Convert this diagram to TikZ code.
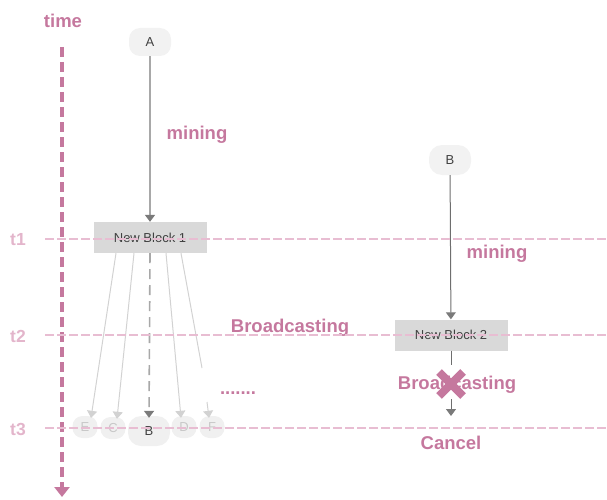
\documentclass[tikz,border=0pt]{standalone}
\usepackage{fontspec}
\setmainfont{Liberation Sans}
\usetikzlibrary{arrows.meta}
\definecolor{rose}{HTML}{C5789E}
\definecolor{roselight}{HTML}{E8BDD2}
\definecolor{ticktext}{HTML}{E3B5CB}
\definecolor{peerfill}{HTML}{F2F2F2}
\definecolor{ghostfill}{HTML}{F0F0F0}
\definecolor{blockfill}{HTML}{D9D9D9}
\definecolor{linegray}{HTML}{A8A8A8}
\definecolor{tipgray}{HTML}{7A7A7A}
\definecolor{darkline}{HTML}{6E6E6E}
\definecolor{faint}{HTML}{D2D2D2}
\definecolor{ghosttext}{HTML}{C8C8C8}
\definecolor{inkgray}{HTML}{404040}

\tikzset{
  peer/.style={fill=peerfill, rounded corners=11pt, minimum width=42pt, minimum height=28pt,
    inner sep=0pt, text=inkgray, font=\fontsize{13}{13}\selectfont},
  ghost/.style={peer, fill=ghostfill, rounded corners=10pt, minimum width=25pt,
    minimum height=22pt, text=ghosttext},
  block/.style={fill=blockfill, minimum width=113pt, minimum height=31pt, inner sep=0pt,
    text=inkgray, font=\fontsize{13}{13}\selectfont},
  tag/.style={text=rose, font=\bfseries\fontsize{18.5}{18.5}\selectfont, inner sep=0pt,
    yshift=-2pt},
  tick/.style={text=ticktext, font=\bfseries\fontsize{17.5}{17.5}\selectfont, inner sep=0pt,
    yshift=-1pt},
  flow/.style={draw=linegray, line width=1.6pt,
    -{Triangle[width=10pt,length=7pt,color=tipgray]}},
  thinflow/.style={draw=darkline, line width=1pt,
    -{Triangle[width=10pt,length=7pt,color=tipgray]}},
  fan/.style={draw=faint, line width=1pt, -{Triangle[width=10pt,length=7pt]}},
  timeline/.style={draw=roselight, line width=2.6pt, dash pattern=on 8.5pt off 3.5pt},
  axis/.style={draw=rose, line width=4pt, dash pattern=on 10pt off 5pt,
    -{Triangle[width=15pt,length=10pt]}},
}

\begin{document}
\begin{tikzpicture}[x=1pt,y=-1pt]
\useasboundingbox (0,0) rectangle (607,500);

% time axis
\node[tag] (time) at (63,19) {time};
\coordinate (axtop) at (62,47);
\coordinate (axbot) at (62,497);
\draw[axis] (axtop) -- (axbot);

% left chain: A mines New Block 1 and broadcasts it
\node[peer] (A) at (150,42) {A};
\node[block] (nb1) at (150,237.5) {New Block 1};
\node[ghost] (E) at (85,427) {E};
\node[ghost] (C) at (113,428) {C};
\node[peer, fill=ghostfill, minimum height=30pt, rounded corners=13pt] (Bl) at (149,431) {B};
\node[ghost] (D) at (184,427) {D};
\node[ghost] (F) at (212,427) {F};

\draw[flow] (A) -- (nb1);
\node[tag] (mine1) at (197,133) {mining};

\draw[fan] ([xshift=-34pt]nb1.south) -- ([xshift=6pt,yshift=-2pt]E.north);
\draw[fan] ([xshift=-16pt]nb1.south) -- ([xshift=4pt,yshift=-2pt]C.north);
\draw[draw=linegray, line width=1.6pt, dash pattern=on 10pt off 6pt,
  -{Triangle[width=10pt,length=7pt,color=tipgray]}] (nb1.south) -- ([yshift=-2pt]Bl.north);
\draw[fan] ([xshift=16pt]nb1.south) -- ([xshift=-3pt,yshift=-2pt]D.north);
\coordinate (fbreak) at (202,368);
\coordinate (fresume) at (207,402);
\draw[draw=faint, line width=1pt] ([xshift=31pt]nb1.south) -- (fbreak);
\draw[fan] (fresume) -- ([xshift=-3pt,yshift=-2pt]F.north);

\node[tag] (bc1) at (290,326) {Broadcasting};
\node[tag] (more) at (238,391) {.......};

% right chain: B mines New Block 2, its broadcast is cancelled
\node[peer, minimum height=30pt, rounded corners=13pt] (Br) at (450,160) {B};
\node[block] (nb2) at (451,335) {New Block 2};
\draw[thinflow] (Br) -- (nb2);
\node[tag] (mine2) at (497,252) {mining};

\node[tag] (bc2) at (457,383) {Broadcasting};
\coordinate (stub) at (451,365);
\draw[draw=darkline, line width=1pt] (nb2.south) -- (stub);
\coordinate (xa) at (439,372);
\coordinate (xb) at (463,396);
\coordinate (xc) at (439,396);
\coordinate (xd) at (463,372);
\draw[rose, line width=8pt] (xa) -- (xb) (xc) -- (xd);
\coordinate (resume) at (451,399);
\coordinate (stop) at (451,416);
\draw[thinflow] (resume) -- (stop);
\node[tag] (cancel) at (451,441) {Cancel};

% time marks
\node[tick] (t1) at (18,239) {t1};
\node[tick] (t2) at (18,335) {t2};
\node[tick] (t3) at (18,428) {t3};
\coordinate (h1) at (45,239);
\coordinate (h2) at (45,335);
\coordinate (h3) at (45,428);
\draw[timeline] (h1) -- (607,239);
\draw[timeline] (h2) -- (607,335);
\draw[timeline] (h3) -- (607,428);
\end{tikzpicture}
\end{document}
